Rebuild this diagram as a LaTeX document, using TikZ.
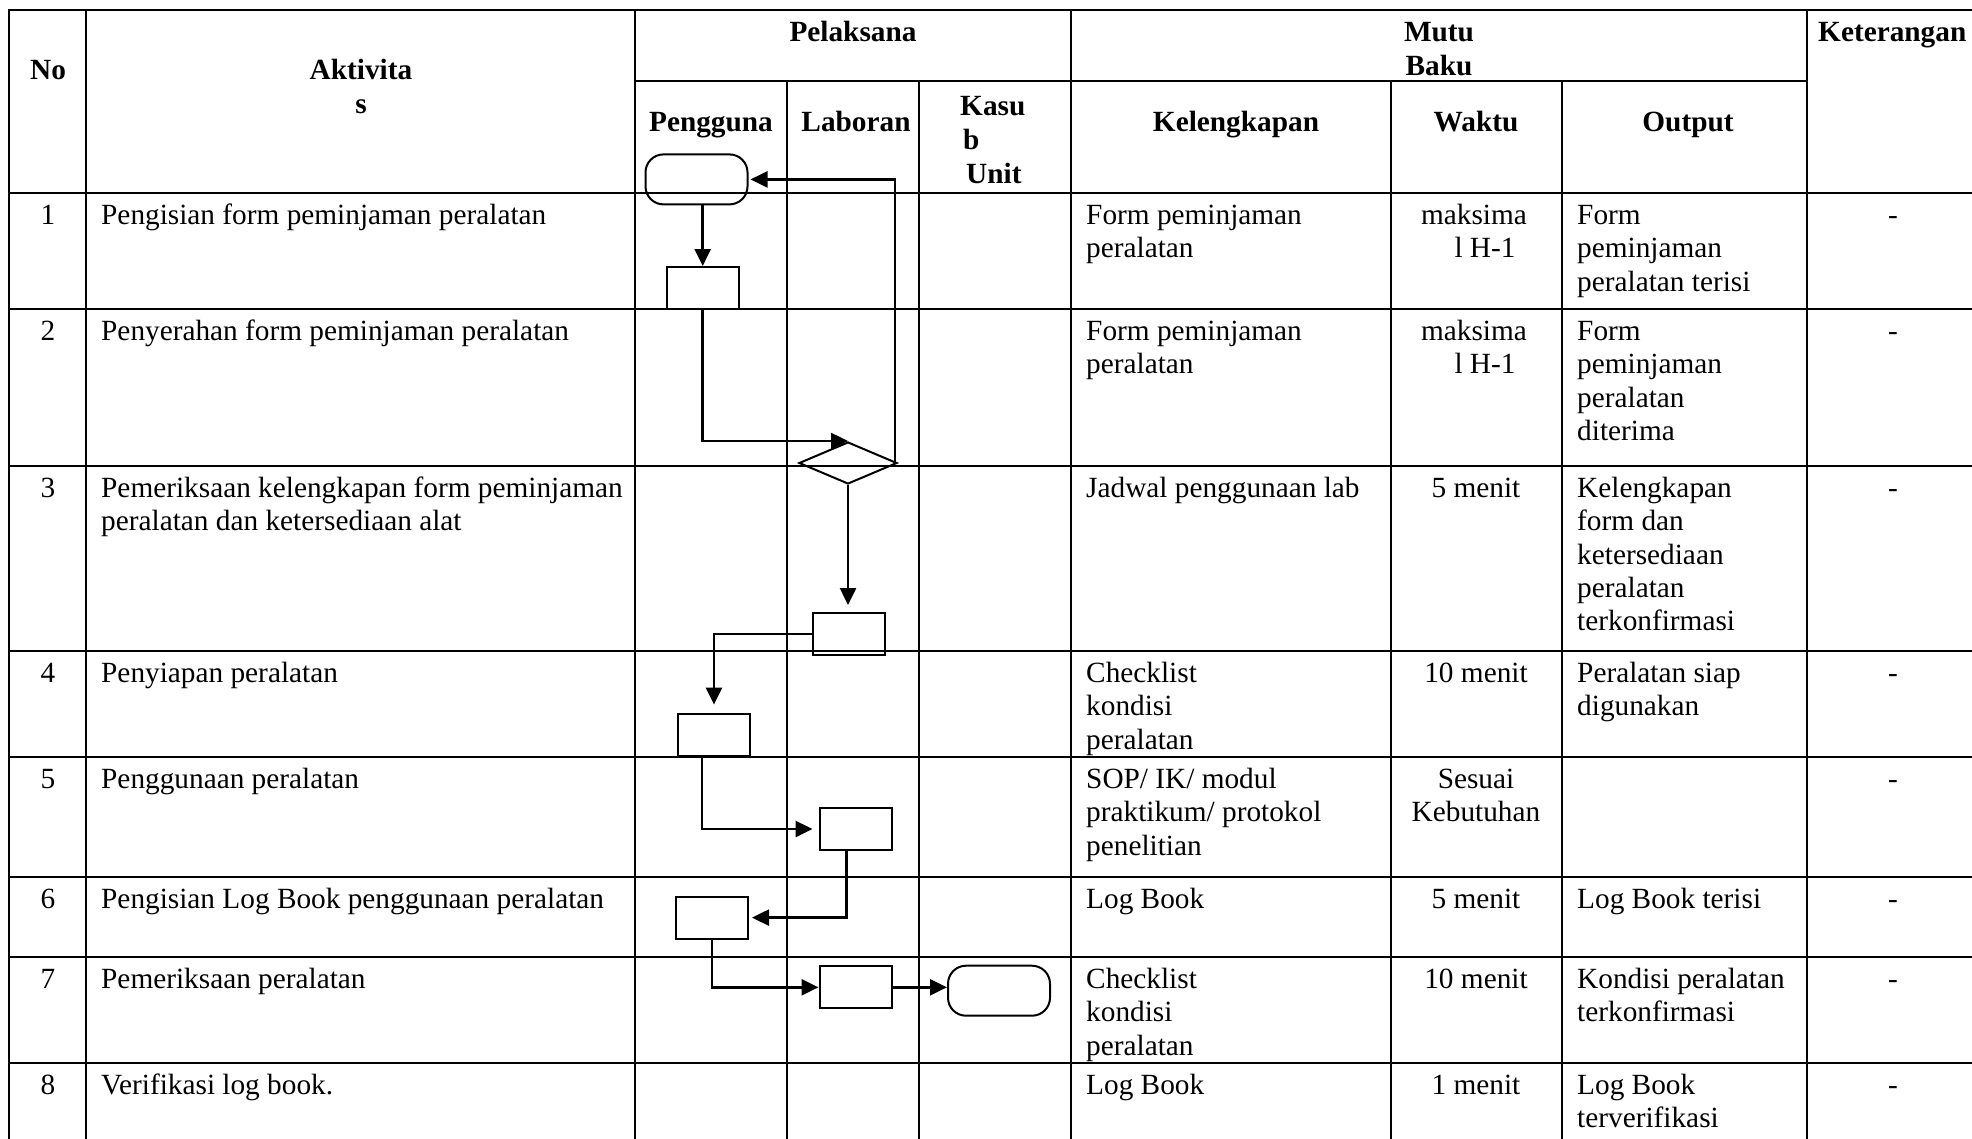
\documentclass[tikz,border=0pt]{standalone}
\usepackage{fontspec}
\setmainfont{Liberation Serif}
\usetikzlibrary{arrows.meta,shapes.geometric}
\newcommand\tst{\rule{0pt}{24pt}}
\begin{document}
\begin{tikzpicture}[x=1pt,y=-1pt,
  grid/.style={line width=2.3pt, line cap=rect},
  txt/.style={inner sep=0pt, font=\fontsize{29.3}{33.4}\selectfont, align=left, anchor=north west},
  ctxt/.style={inner sep=0pt, font=\fontsize{29.3}{33.4}\selectfont, align=center, anchor=north},
  hd/.style={inner sep=0pt, font=\fontsize{29.3}{34}\selectfont\bfseries, align=center, anchor=north},
  hdl/.style={inner sep=0pt, font=\fontsize{29.3}{34}\selectfont\bfseries, align=left, anchor=north west},
  proc/.style={draw, line width=2pt, minimum width=72pt, minimum height=42pt, inner sep=0pt},
  term/.style={draw, line width=2pt, rounded corners=18pt, minimum width=102pt, minimum height=50pt, inner sep=0pt},
  dec/.style={draw, line width=2pt, diamond, minimum width=98pt, minimum height=42pt, inner sep=0pt},
  flow/.style={line width=2.5pt, -{Triangle[length=17pt,width=16pt]}}
]
\useasboundingbox (0,0) rectangle (1972,1138);

% ---------- table grid ----------
\foreach \yy in {10,193,309,466,651,757,877,957,1063}
  \draw[grid] (9,\yy) -- (1972,\yy);
\draw[grid] (635,81) -- (1807,81);
\foreach \xx in {9,86,635,1071,1807}
  \draw[grid] (\xx,10) -- (\xx,1138);
\foreach \xx in {787,919,1391,1562}
  \draw[grid] (\xx,81) -- (\xx,1138);

% ---------- header ----------
\node[hd] (hNo) at (48,55) {\tst No};
\node[hd] (hAkt) at (361,55) {\tst Aktivita\\s};
\node[hd] (hPel) at (853,17) {\tst Pelaksana};
\node[hd] (hMutu) at (1439,17) {\tst Mutu\\Baku};
\node[hdl] (hKet) at (1818,17) {\tst Keterangan};
\node[hd] (hPeng) at (711,107) {\tst Pengguna};
\node[hd] (hLab) at (856,107) {\tst Laboran};
\node[hdl] (hKas) at (960,91) {\tst Kasu\\\hspace*{3pt}b\\\hspace*{6pt}Unit};
\node[hd] (hKel) at (1236,107) {\tst Kelengkapan};
\node[hd] (hWak) at (1476,107) {\tst Waktu};
\node[hd] (hOut) at (1688,107) {\tst Output};

% ---------- rows ----------
% row 1
\node[ctxt] (n1) at (48,200) {\tst 1};
\node[txt] (a1) at (101,200) {\tst Pengisian form peminjaman peralatan};
\node[txt] (k1) at (1086,200) {\tst Form peminjaman\\peralatan};
\node[ctxt] (w1) at (1474,200) {\tst maksima\\\hspace*{22pt}l H-1};
\node[txt] (o1) at (1577,200) {\tst Form\\peminjaman\\peralatan terisi};
\node[ctxt] (r1) at (1893,200) {\tst -};
% row 2
\node[ctxt] (n2) at (48,316) {\tst 2};
\node[txt] (a2) at (101,316) {\tst Penyerahan form peminjaman peralatan};
\node[txt] (k2) at (1086,316) {\tst Form peminjaman\\peralatan};
\node[ctxt] (w2) at (1474,316) {\tst maksima\\\hspace*{22pt}l H-1};
\node[txt] (o2) at (1577,316) {\tst Form\\peminjaman\\peralatan\\diterima};
\node[ctxt] (r2) at (1893,316) {\tst -};
% row 3
\node[ctxt] (n3) at (48,473) {\tst 3};
\node[txt] (a3) at (101,473) {\tst Pemeriksaan kelengkapan form peminjaman\\peralatan dan ketersediaan alat};
\node[txt] (k3) at (1086,473) {\tst Jadwal penggunaan lab};
\node[ctxt] (w3) at (1476,473) {\tst 5 menit};
\node[txt] (o3) at (1577,473) {\tst Kelengkapan\\form dan\\ketersediaan\\peralatan\\terkonfirmasi};
\node[ctxt] (r3) at (1893,473) {\tst -};
% row 4
\node[ctxt] (n4) at (48,658) {\tst 4};
\node[txt] (a4) at (101,658) {\tst Penyiapan peralatan};
\node[txt] (k4) at (1086,658) {\tst Checklist\\kondisi\\peralatan};
\node[ctxt] (w4) at (1476,658) {\tst 10 menit};
\node[txt] (o4) at (1577,658) {\tst Peralatan siap\\digunakan};
\node[ctxt] (r4) at (1893,658) {\tst -};
% row 5
\node[ctxt] (n5) at (48,764) {\tst 5};
\node[txt] (a5) at (101,764) {\tst Penggunaan peralatan};
\node[txt] (k5) at (1086,764) {\tst SOP/ IK/ modul\\praktikum/ protokol\\penelitian};
\node[ctxt] (w5) at (1476,764) {\tst Sesuai\\Kebutuhan};
\node[ctxt] (r5) at (1893,764) {\tst -};
% row 6
\node[ctxt] (n6) at (48,884) {\tst 6};
\node[txt] (a6) at (101,884) {\tst Pengisian Log Book penggunaan peralatan};
\node[txt] (k6) at (1086,884) {\tst Log Book};
\node[ctxt] (w6) at (1476,884) {\tst 5 menit};
\node[txt] (o6) at (1577,884) {\tst Log Book terisi};
\node[ctxt] (r6) at (1893,884) {\tst -};
% row 7
\node[ctxt] (n7) at (48,964) {\tst 7};
\node[txt] (a7) at (101,964) {\tst Pemeriksaan peralatan};
\node[txt] (k7) at (1086,964) {\tst Checklist\\kondisi\\peralatan};
\node[ctxt] (w7) at (1476,964) {\tst 10 menit};
\node[txt] (o7) at (1577,964) {\tst Kondisi peralatan\\terkonfirmasi};
\node[ctxt] (r7) at (1893,964) {\tst -};
% row 8
\node[ctxt] (n8) at (48,1070) {\tst 8};
\node[txt] (a8) at (101,1070) {\tst Verifikasi log book.};
\node[txt] (k8) at (1086,1070) {\tst Log Book};
\node[ctxt] (w8) at (1476,1070) {\tst 1 menit};
\node[txt] (o8) at (1577,1070) {\tst Log Book\\terverifikasi};
\node[ctxt] (r8) at (1893,1070) {\tst -};

% ---------- flowchart ----------
\node[term] (t1) at (696.5,179.4) {};
\node[proc] (b1) at (702.7,288) {};
\node[dec]  (d1) at (848,463) {};
\node[proc] (b2) at (849,634) {};
\node[proc] (b3) at (714,734.6) {};
\node[proc] (b4) at (855.5,829) {};
\node[proc] (b5) at (712,917.6) {};
\node[proc] (b6) at (855.5,987.3) {};
\node[term] (t2) at (999,990.7) {};

\draw[flow] (t1.south -| b1.north) -- (b1.north);
\draw[flow] (b1.south) |- (d1.north);
\draw[flow, shorten >=2pt] ([xshift=-3pt]d1.east) |- (t1.east);
\draw[flow, shorten >=7pt] (d1.south) -- (d1.south |- b2.north);
\draw[flow, shorten >=8pt] (b2.west) -| (b3.north);
\draw[flow, shorten >=6pt] ([xshift=-12pt]b3.south) |- (b4.west);
\draw[flow, shorten >=3pt] ([xshift=-9pt]b4.south) |- (b5.east);
\draw[flow] (b5.south) |- (b6.west);
\draw[flow] (b6.east) -- (b6.east -| t2.west);
\end{tikzpicture}
\end{document}
